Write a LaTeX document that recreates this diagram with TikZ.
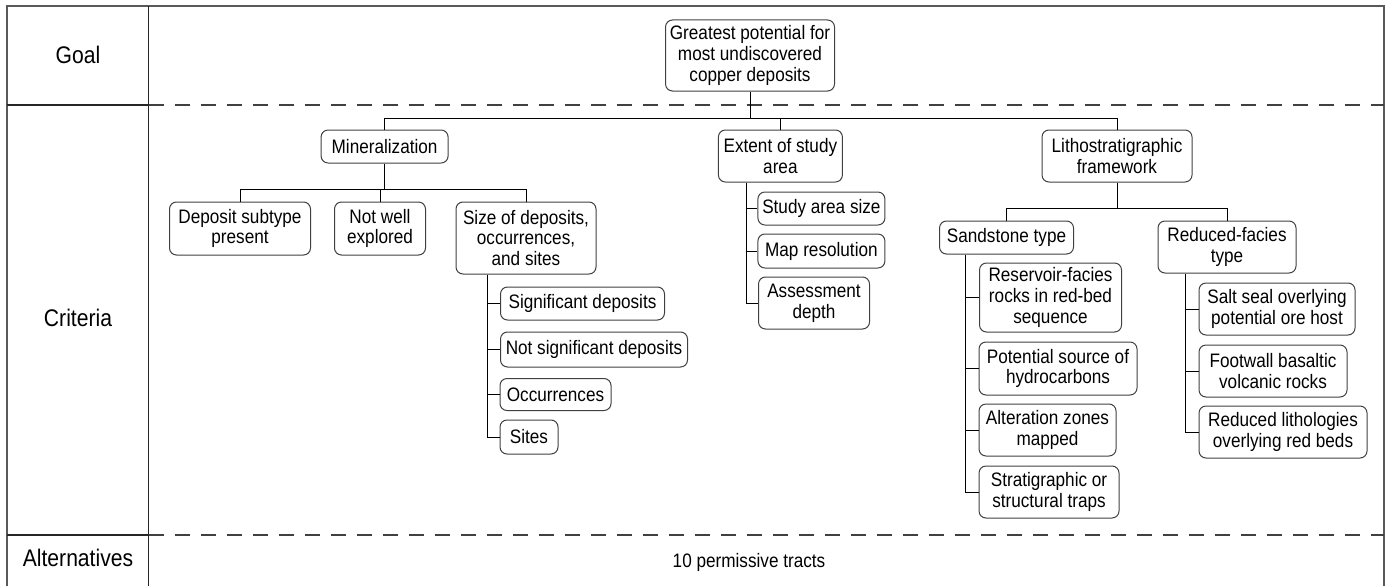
\documentclass[tikz,border=0pt]{standalone}
\usepackage{fontspec}
\setmainfont{Liberation Sans}[FakeStretch=0.88]
\newcommand{\nodefnt}{\fontsize{19.5}{20.7}\selectfont}
\newcommand{\labfnt}{\fontsize{24}{27}\selectfont}
\tikzset{
  box/.style={draw=black!75, line width=1pt, rounded corners=7pt, align=center, inner sep=0pt, font=\nodefnt},
  bx/.style 2 args={minimum width=#1pt, minimum height=#2pt},
  conn/.style={draw=black, line width=0.9pt},
  framel/.style={draw=black!65, line width=2pt},
  divl/.style={draw=black!85, line width=1.2pt},
  sepl/.style={draw=black!75, line width=1.2pt, dash pattern=on 15pt off 11pt},
  lab/.style={font=\labfnt, inner sep=0pt},
  plain/.style={font=\nodefnt, inner sep=0pt},
}
\begin{document}
\begin{tikzpicture}[x=1pt,y=-1pt]
\useasboundingbox (0,0) rectangle (1391,586);
% frame
\draw[framel] (7,586) -- (7,6) -- (1384,6) -- (1384,586);
\draw[divl] (148.5,6) -- (148.5,586);
\draw[divl] (7,105) -- (148.5,105);
\draw[divl] (7,535) -- (148.5,535);
\draw[sepl] (148.5,105) -- (1384,105);
\draw[sepl] (148.5,535) -- (1384,535);
% row labels
\node[lab] (lgoal) at (78,55) {Goal};
\node[lab] (lcrit) at (78,318) {Criteria};
\node[lab] (lalt) at (78,558) {Alternatives};
\node[plain] (alts) at (749,562) {10 permissive tracts};
% coordinates for bars
\coordinate (bar1) at (0,118);
\coordinate (bar2) at (0,189);
\coordinate (bar3) at (0,208);
\coordinate (vsize) at (487.5,0);
\coordinate (vext) at (746,0);
\coordinate (vsst) at (965.7,0);
\coordinate (vrft) at (1185.5,0);
% nodes
\node[box, bx={169}{71}] (goal) at (750,55.5) {Greatest potential for\\most undiscovered\\copper deposits};
\node[box, bx={127}{33}] (min) at (384.6,146.5) {Mineralization};
\node[box, bx={124}{52}] (ext) at (780.4,156) {Extent of study\\area};
\node[box, bx={150}{52}] (lith) at (1117,156) {Lithostratigraphic\\framework};
\node[box, bx={141}{53}] (dep) at (240,228.5) {Deposit subtype\\present};
\node[box, bx={91}{53}] (nwe) at (380,228.5) {Not well\\explored};
\node[box, bx={140}{72}] (size) at (526,238) {Size of deposits,\\occurrences,\\and sites};
\node[box, bx={164}{33}] (sig) at (582.5,303.5) {Significant deposits};
\node[box, bx={187}{35}] (nsig) at (594,349.5) {Not significant deposits};
\node[box, bx={111}{32}] (occ) at (555.5,394.5) {Occurrences};
\node[box, bx={58}{34}] (sites) at (529,437) {Sites};
\node[box, bx={127}{33}] (sas) at (821.4,208.5) {Study area size};
\node[box, bx={127}{34}] (mapr) at (821.4,251) {Map resolution};
\node[box, bx={111}{52}] (assd) at (814,303) {Assessment\\depth};
\node[box, bx={134}{33}] (sst) at (1006.5,237.5) {Sandstone type};
\node[box, bx={138}{52}] (rft) at (1227,247) {Reduced-facies\\type};
\node[box, bx={142}{69}] (res) at (1050.5,297.5) {Reservoir-facies\\rocks in red-bed\\sequence};
\node[box, bx={158}{53}] (pot) at (1058,368.5) {Potential source of\\hydrocarbons};
\node[box, bx={137}{52}] (alt) at (1047.5,430) {Alteration zones\\mapped};
\node[box, bx={140}{52}] (str) at (1049,492) {Stratigraphic or\\structural traps};
\node[box, bx={156}{52}] (salt) at (1277,309) {Salt seal overlying\\potential ore host};
\node[box, bx={148}{52}] (foot) at (1273,371) {Footwall basaltic\\volcanic rocks};
\node[box, bx={168}{52}] (redl) at (1283,432) {Reduced lithologies\\overlying red beds};
% connectors: goal level
\draw[conn] (goal.south) -- (goal.south |- bar1);
\draw[conn] (min.north) -- (min.north |- bar1) -- (lith.north |- bar1) -- (lith.north);
\draw[conn] (ext.north) -- (ext.north |- bar1);
% mineralization
\draw[conn] (min.south) -- (min.south |- bar2);
\draw[conn] (dep.north) -- (dep.north |- bar2) -- (size.north |- bar2) -- (size.north);
\draw[conn] (nwe.north) -- (nwe.north |- bar2);
% size children
\draw[conn] (size.south -| vsize) |- (sites.west);
\draw[conn] (sig.west -| vsize) -- (sig.west);
\draw[conn] (nsig.west -| vsize) -- (nsig.west);
\draw[conn] (occ.west -| vsize) -- (occ.west);
% extent children
\draw[conn] (ext.south -| vext) |- (assd.west);
\draw[conn] (sas.west -| vext) -- (sas.west);
\draw[conn] (mapr.west -| vext) -- (mapr.west);
% litho
\draw[conn] (lith.south) -- (lith.south |- bar3);
\draw[conn] (sst.north) -- (sst.north |- bar3) -- (rft.north |- bar3) -- (rft.north);
% sandstone children
\draw[conn] (sst.south -| vsst) |- (str.west);
\draw[conn] (res.west -| vsst) -- (res.west);
\draw[conn] (pot.west -| vsst) -- (pot.west);
\draw[conn] (alt.west -| vsst) -- (alt.west);
% reduced children
\draw[conn] (rft.south -| vrft) |- (redl.west);
\draw[conn] (salt.west -| vrft) -- (salt.west);
\draw[conn] (foot.west -| vrft) -- (foot.west);
\end{tikzpicture}
\end{document}
